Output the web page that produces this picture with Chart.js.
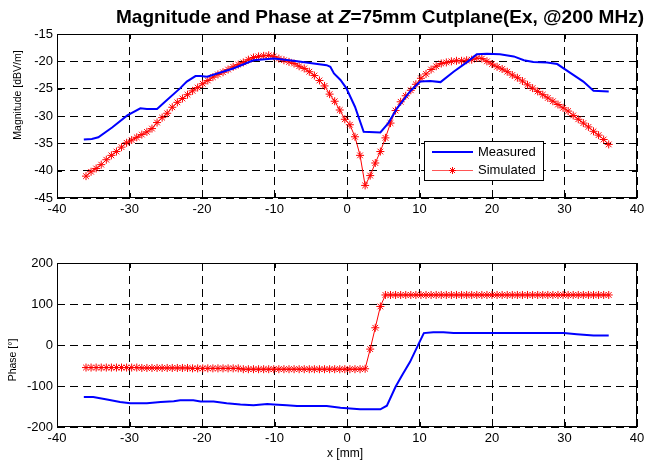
<!DOCTYPE html>
<html>
<head>
<meta charset="utf-8">
<script src="https://cdn.jsdelivr.net/npm/chart.js@4.4.1/dist/chart.umd.min.js"></script>
<style>
  body { margin: 0; background: #fff; font-family: Arial, "Liberation Sans", sans-serif; }
  #page { position: relative; width: 652px; height: 466px; overflow: hidden; }
  #title { position: absolute; left: 380px; top: 17px; font-size: 19px; font-weight: bold; white-space: nowrap; line-height: 22px; transform: translate(-50%, -50%); }
  .ytitle { position: absolute; font-size: 10.5px; white-space: nowrap; transform: translate(-50%, -50%) rotate(-90deg); }
  #xtitle { position: absolute; left: 345px; top: 453px; font-size: 12px; transform: translate(-50%, -50%); white-space: nowrap; }
  canvas { position: absolute; left: 0; }
</style>
</head>
<body>
<div id="page">
  <canvas id="mag" width="652" height="225" style="top:0"></canvas>
  <canvas id="ph" width="652" height="226" style="top:240px"></canvas>
  <div id="title">Magnitude and Phase at <i>Z</i>=75mm Cutplane(Ex, @200 MHz)</div>
  <div class="ytitle" style="left:17px; top:95px">Magnitude [dBV/m]</div>
  <div class="ytitle" style="left:12px; top:360px">Phase [°]</div>
  <div id="xtitle">x [mm]</div>
</div>
<script>
// Measured magnitude (blue)
const measMagX = [-36.3, -35.2, -34.3, -32.4, -30.3, -28.5, -27.6, -26.2, -25.1, -23.0, -22.1, -20.9, -20.2, -19.3,
  -15.7, -12.9, -10.1, -7.4, -4.6, -2.8, -2.3, -1.8, -0.9, -0.1, 1.1, 2.3, 4.6, 5.7, 6.9, 8.7, 10.1, 11.5, 12.9,
  14.7, 16.6, 17.9, 19.3, 21.1, 23.0, 24.4, 25.7, 27.6, 29.0, 30.8, 32.6, 34.0, 36.1];
const measMag = [-34.3, -34.2, -33.9, -32.1, -29.9, -28.6, -28.7, -28.7, -27.4, -24.9, -23.7, -22.7, -22.7, -22.8,
  -21.3, -19.8, -19.5, -19.9, -20.4, -20.7, -21.0, -22.2, -23.4, -24.9, -28.3, -32.9, -33.0, -31.3, -28.6, -25.5, -23.7, -23.6, -23.8,
  -21.9, -20.1, -18.7, -18.6, -18.7, -19.1, -19.8, -20.1, -20.2, -20.5, -22.1, -23.7, -25.4, -25.5];

// Measured phase (blue)
const measPhX = [-36.3, -35.0, -33.1, -31.3, -29.9, -27.6, -25.7, -23.9, -23.0, -21.2, -20.2, -18.4, -16.6, -14.7,
  -12.9, -11.0, -10.1, -8.3, -6.9, -4.6, -2.8, -0.9, 1.8, 4.6, 5.5, 6.7, 7.6, 8.7, 9.7, 10.6, 11.9, 13.3, 14.7,
  19.8, 29.9, 31.7, 34.0, 36.1];
const measPh = [-127, -127, -133, -139, -142, -142, -139, -137, -135, -135, -138, -138, -142, -145,
  -147, -144, -145, -147, -149, -149, -149, -153, -157, -157, -148, -102, -74, -41, -4, 29, 31, 31, 29,
  29, 29, 26, 23, 23];

// Simulated samples (red, one star per sample)
const simX = [-36.0, -35.3, -34.6, -33.9, -33.2, -32.5, -31.8, -31.1, -30.4, -29.7, -29.0, -28.3, -27.6, -26.9,
  -26.2, -25.5, -24.8, -24.1, -23.4, -22.7, -22.0, -21.3, -20.6, -19.9, -19.2, -18.5, -17.8, -17.1, -16.4, -15.7,
  -15.0, -14.3, -13.6, -12.9, -12.2, -11.5, -10.8, -10.1, -9.4, -8.7, -8.0, -7.3, -6.6, -5.9, -5.2, -4.5, -3.8,
  -3.1, -2.4, -1.7, -1.0, -0.3, 0.4, 1.1, 1.8, 2.5, 3.2, 3.9, 4.6, 5.3, 6.0, 6.7, 7.4, 8.1, 8.8, 9.5, 10.2, 10.9,
  11.6, 12.3, 13.0, 13.7, 14.4, 15.1, 15.8, 16.5, 17.2, 17.9, 18.6, 19.3, 20.0, 20.7, 21.4, 22.1, 22.8, 23.5,
  24.2, 24.9, 25.6, 26.3, 27.0, 27.7, 28.4, 29.1, 29.8, 30.5, 31.2, 31.9, 32.6, 33.3, 34.0, 34.7, 35.4, 36.1];
const simMag = [-41.0, -40.2, -39.6, -38.9, -38.0, -37.2, -36.5, -35.7, -34.9, -34.4, -33.9, -33.4, -32.9, -32.3,
  -31.2, -30.3, -29.5, -28.4, -27.5, -26.8, -26.1, -25.4, -24.8, -24.1, -23.5, -22.9, -22.4, -22.0, -21.5, -21.0,
  -20.6, -20.2, -19.7, -19.3, -19.1, -19.0, -18.9, -19.1, -19.5, -19.8, -20.1, -20.4, -20.9, -21.3, -21.9, -22.6, -23.5,
  -24.5, -26.0, -27.3, -28.9, -30.6, -31.6, -33.8, -37.2, -42.7, -40.9, -38.6, -36.5, -34.0, -31.3, -29.0, -27.4, -26.3, -25.3, -24.2, -23.1, -22.3,
  -21.5, -20.9, -20.4, -20.2, -20.0, -19.9, -19.9, -19.8, -19.7, -19.4, -19.5, -20.0, -20.5, -21.0, -21.4, -21.9, -22.5, -23.0,
  -23.6, -24.3, -24.9, -25.5, -26.1, -26.7, -27.3, -27.9, -28.5, -29.1, -29.9, -30.6, -31.3, -32.0, -32.8, -33.5, -34.3, -35.2];
const simPh = [-55, -55, -55, -55, -55, -55, -55, -55, -55, -55, -55, -56, -56, -56,
  -56, -56, -56, -56, -56, -56, -56, -57, -57, -57, -57, -57, -57, -57, -57, -57,
  -57, -59, -59, -59, -59, -59, -59, -59, -59, -59, -59, -59, -59, -59, -59, -59, -59,
  -59, -59, -59, -59, -59, -59, -59, -59, -58, -10, 42, 94, 122, 122, 122, 122, 122, 122, 122, 122, 122,
  122, 122, 122, 122, 122, 122, 122, 122, 122, 122, 122, 122, 122, 122, 122, 122, 122, 122,
  122, 122, 122, 122, 122, 122, 122, 122, 122, 122, 122, 122, 122, 122, 122, 122, 122, 122];

const xTicks = [-40, -30, -20, -10, 0, 10, 20, 30, 40];
const magTicks = [-45, -40, -35, -30, -25, -20, -15];
const phTicks = [-200, -100, 0, 100, 200];

const BLUE = '#0000ff';
const RED = '#ff0000';
const tickFont = { family: 'Arial, "Liberation Sans", sans-serif', size: 13 };

const toPoints = (xs, ys) => xs.map((x, i) => ({ x, y: ys[i] }));

// MATLAB style: solid box plus short inward tick marks
const boxTicks = {
  id: 'boxTicks',
  afterDatasetsDraw(chart) {
    const { ctx, chartArea: a, scales } = chart;
    ctx.save();
    ctx.setLineDash([]);
    ctx.strokeStyle = '#000';
    ctx.lineWidth = 1;
    ctx.strokeRect(Math.round(a.left) + 0.5, Math.round(a.top) + 0.5, Math.round(a.width) - 1, Math.round(a.height) - 1);
    ctx.beginPath();
    scales.x.ticks.forEach(t => {
      const px = Math.round(scales.x.getPixelForValue(t.value)) + 0.5;
      ctx.moveTo(px, a.top); ctx.lineTo(px, a.top + 5);
      ctx.moveTo(px, a.bottom); ctx.lineTo(px, a.bottom - 5);
    });
    scales.y.ticks.forEach(t => {
      const py = Math.round(scales.y.getPixelForValue(t.value)) + 0.5;
      ctx.moveTo(a.left, py); ctx.lineTo(a.left + 5, py);
      ctx.moveTo(a.right, py); ctx.lineTo(a.right - 5, py);
    });
    ctx.stroke();
    ctx.restore();
  }
};

function drawStar(ctx, x, y, r) {
  const d = r * Math.SQRT1_2;
  ctx.beginPath();
  ctx.moveTo(x - r, y); ctx.lineTo(x + r, y);
  ctx.moveTo(x, y - r); ctx.lineTo(x, y + r);
  ctx.moveTo(x - d, y - d); ctx.lineTo(x + d, y + d);
  ctx.moveTo(x - d, y + d); ctx.lineTo(x + d, y - d);
  ctx.stroke();
}

// legend box inside the magnitude axes
const legendBox = {
  id: 'legendBox',
  afterDraw(chart) {
    const ctx = chart.ctx;
    ctx.save();
    ctx.setLineDash([]);
    ctx.fillStyle = '#fff';
    ctx.fillRect(424.5, 141.5, 119, 39);
    ctx.strokeStyle = '#000';
    ctx.lineWidth = 1;
    ctx.strokeRect(424.5, 141.5, 119, 39);

    ctx.strokeStyle = BLUE;
    ctx.lineWidth = 2;
    ctx.beginPath(); ctx.moveTo(432, 152); ctx.lineTo(473, 152); ctx.stroke();

    ctx.strokeStyle = '#ff5555';
    ctx.lineWidth = 1;
    ctx.beginPath(); ctx.moveTo(432, 170.5); ctx.lineTo(473, 170.5); ctx.stroke();
    ctx.strokeStyle = RED;
    drawStar(ctx, 452.5, 170.5, 3.5);

    ctx.fillStyle = '#000';
    ctx.font = '13px Arial, "Liberation Sans", sans-serif';
    ctx.textBaseline = 'middle';
    ctx.fillText('Measured', 478, 152);
    ctx.fillText('Simulated', 478, 170.5);
    ctx.restore();
  }
};

function axisOpts(min, max, step, ticks, size, isY) {
  return {
    type: 'linear',
    min, max,
    afterBuildTicks: s => { s.ticks = ticks.map(v => ({ value: v })); },
    afterFit: s => { if (isY) s.width = size; else s.height = size; },
    ticks: { font: tickFont, color: '#000', padding: 4, maxRotation: 0, autoSkip: false, stepSize: step },
    grid: { color: '#000', lineWidth: 1, drawTicks: false },
    border: { display: false, dash: [8, 5] }
  };
}

function simSet(data) {
  return {
    label: 'Simulated',
    data,
    borderColor: RED,
    borderWidth: 1,
    pointStyle: 'star',
    pointRadius: 4,
    pointBorderColor: RED,
    pointBorderWidth: 1,
    pointBackgroundColor: RED,
    tension: 0
  };
}

function measSet(data) {
  return { label: 'Measured', data, borderColor: BLUE, borderWidth: 2, pointRadius: 0, tension: 0 };
}

const common = {
  responsive: false,
  animation: false,
  plugins: { legend: { display: false }, tooltip: { enabled: false } }
};

new Chart(document.getElementById('mag'), {
  type: 'line',
  data: { datasets: [measSet(toPoints(measMagX, measMag)), simSet(toPoints(simX, simMag))] },
  options: {
    ...common,
    layout: { padding: { left: 0, right: 15, top: 34, bottom: 0 } },
    scales: {
      x: axisOpts(-40, 40, 10, xTicks, 27, false),
      y: axisOpts(-45, -15, 5, magTicks, 57, true)
    }
  },
  plugins: [boxTicks, legendBox]
});

new Chart(document.getElementById('ph'), {
  type: 'line',
  data: { datasets: [measSet(toPoints(measPhX, measPh)), simSet(toPoints(simX, simPh))] },
  options: {
    ...common,
    layout: { padding: { left: 0, right: 15, top: 23, bottom: 0 } },
    scales: {
      x: axisOpts(-40, 40, 10, xTicks, 39, false),
      y: axisOpts(-200, 200, 100, phTicks, 57, true)
    }
  },
  plugins: [boxTicks]
});
</script>
</body>
</html>
